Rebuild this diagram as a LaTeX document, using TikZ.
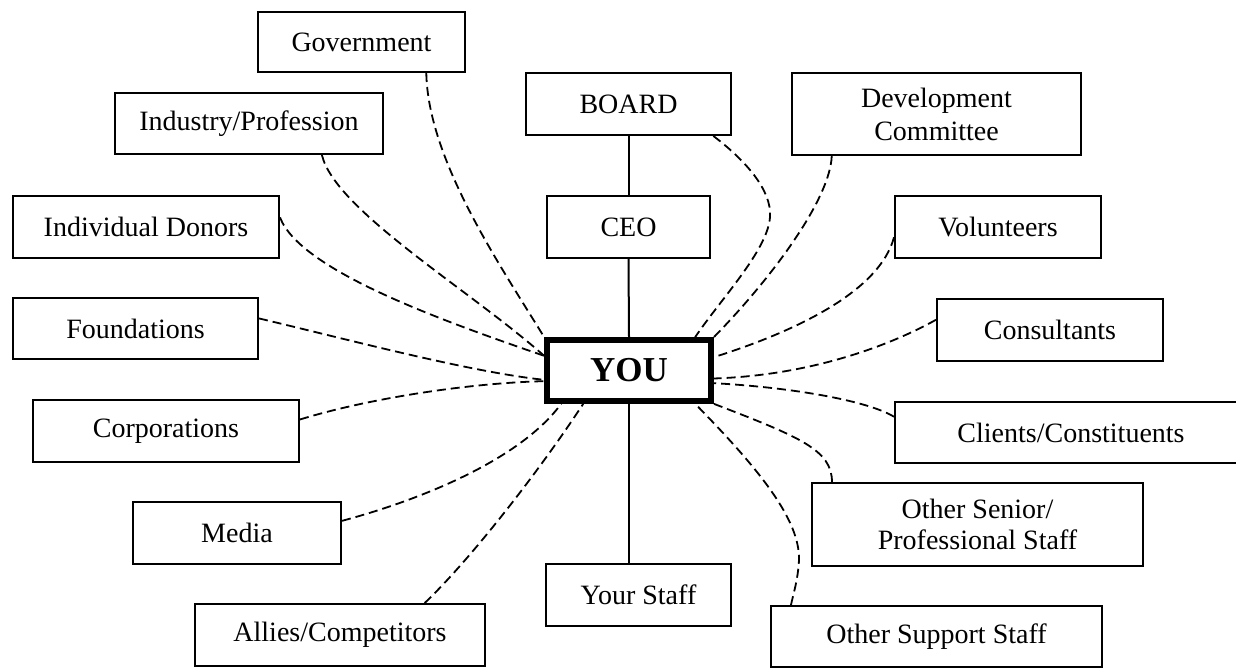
\documentclass[tikz,border=0pt]{standalone}
\usepackage{fontspec}
\setmainfont{Liberation Serif}
\usetikzlibrary{calc}
\begin{document}
\begin{tikzpicture}[x=0.5pt,y=-0.5pt,
  box/.style={draw, line width=1pt, inner sep=0pt, align=center,
              font=\fontsize{14pt}{16.5pt}\selectfont},
  twoline/.style={font=\fontsize{14pt}{15.5pt}\selectfont},
  link/.style={line width=0.9pt, dash pattern=on 4.5pt off 2.5pt},
  tie/.style={line width=1pt}]
\useasboundingbox (0,0) rectangle (1236,668);
\clip (0,0) rectangle (1236,668);

% outer ring of contacts
\node[box, minimum width=103.5pt, minimum height=30pt]   (gov)     at (361.5,42)   {Government};
\node[box, minimum width=134pt,   minimum height=30.5pt] (ind)     at (249,123.5)  {Industry/Profession};
\node[box, minimum width=133pt,   minimum height=31pt]   (donors)  at (146,227)    {Individual Donors};
\node[box, minimum width=102.5pt, minimum height=31pt]   (board)   at (628.5,104)  {BOARD};
\node[box, minimum width=144.5pt, minimum height=41pt, font=\fontsize{14pt}{16.5pt}\selectfont] (dev) at (936.5,114) {Development\\Committee};
\node[box, minimum width=81.5pt,  minimum height=31pt]   (ceo)     at (628.5,227)  {CEO};
\node[box, minimum width=103pt,   minimum height=31pt]   (vol)     at (998,227)    {Volunteers};
\node[box, minimum width=122.5pt, minimum height=30.5pt] (found)   at (135.5,328.5){Foundations};
\node[box, minimum width=113pt,   minimum height=31pt]   (cons)    at (1050,330)   {Consultants};
\node[box, minimum width=133pt,   minimum height=31pt]   (corp)    at (166,431)    {Corporations};
\node[box, minimum width=176pt,   minimum height=30.5pt] (clients) at (1071,432.5) {Clients/Constituents};
\node[box, minimum width=104pt,   minimum height=31pt]   (media)   at (237,533)    {Media};
\node[box, twoline, minimum width=165.5pt, minimum height=41.5pt] (senior) at (977.5,524.5) {Other Senior/\\Professional Staff};
\node[box, minimum width=92.5pt,  minimum height=31pt]   (staff)   at (638.5,595)  {Your Staff};
\node[box, minimum width=145pt,   minimum height=31pt]   (allies)  at (340,635)    {Allies/Competitors};
\node[box, minimum width=165.5pt, minimum height=30.5pt] (support) at (936.5,636.5){Other Support Staff};

% the centre box
\node[draw, line width=2.8pt, inner sep=0pt, minimum width=82pt, minimum height=30.5pt,
      font=\bfseries\fontsize{17.5pt}{20pt}\selectfont] (you) at (629,370.5) {YOU};

% reporting line
\draw[tie] (board.south) -- (ceo.north);
\draw[tie] (ceo.south) -- (you.north);
\draw[tie] (you.south) -- (you.south |- staff.north);

% relationships (dashed)
\draw[link] ($(gov.south west)!0.81!(gov.south east)$) .. controls (428,160) and (500,265) .. (you.north west);
\draw[link] ($(ind.south west)!0.77!(ind.south east)$) .. controls (335,210) and (470,290) .. ($(you.north west)!0.28!(you.south west)$);
\draw[link] ($(donors.north east)!0.35!(donors.south east)$) .. controls (300,270) and (440,320) .. ($(you.north west)!0.28!(you.south west)$);
\draw[link] ($(found.north east)!0.34!(found.south east)$) .. controls (350,340) and (470,372) .. ($(you.north west)!0.64!(you.south west)$);
\draw[link] ($(corp.north east)!0.32!(corp.south east)$) .. controls (370,398) and (470,383) .. ($(you.north west)!0.66!(you.south west)$);
\draw[link] ($(media.north east)!0.31!(media.south east)$) .. controls (420,500) and (520,460) .. ($(you.south west)!0.1!(you.south east)$);
\draw[link] ($(allies.north west)!0.79!(allies.north east)$) .. controls (470,560) and (540,470) .. ($(you.south west)!0.23!(you.south east)$);
\draw[link] ($(support.north west)!0.063!(support.north east)$) .. controls (793,595) and (798,580) .. (799,560)
            .. controls (800,520) and (760,470) .. ($(you.south west)!0.89!(you.south east)$);
\draw[link] ($(senior.north west)!0.063!(senior.north east)$) .. controls (832,450) and (800,437) .. (you.south east);
\draw[link] ($(clients.north west)!0.25!(clients.south west)$) .. controls (870,402) and (800,388) .. ($(you.north east)!0.69!(you.south east)$);
\draw[link] ($(cons.north west)!0.34!(cons.south west)$) .. controls (900,340) and (820,375) .. ($(you.north east)!0.62!(you.south east)$);
\draw[link] ($(vol.north west)!0.66!(vol.south west)$) .. controls (880,290) and (800,330) .. ($(you.north east)!0.30!(you.south east)$);
\draw[link] ($(dev.south west)!0.14!(dev.south east)$) .. controls (830,200) and (770,280) .. (you.north east);
\draw[link] ($(board.south west)!0.91!(board.south east)$) .. controls (745,160) and (772,190) .. (770,217)
            .. controls (768,250) and (720,300) .. ($(you.north west)!0.89!(you.north east)$);
\end{tikzpicture}
\end{document}
